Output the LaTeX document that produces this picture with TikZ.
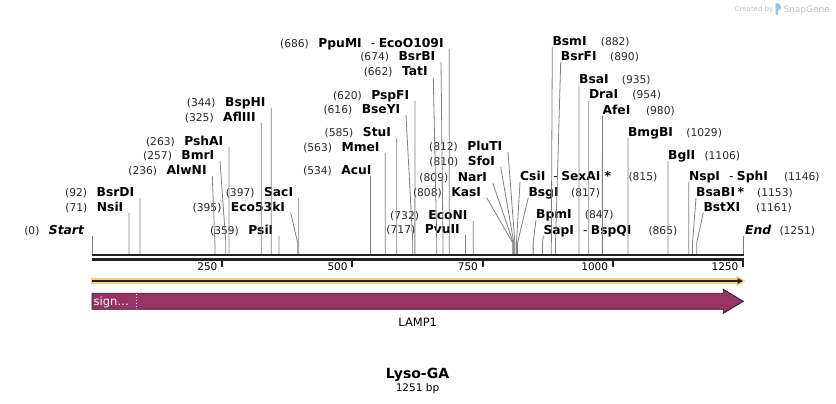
\documentclass[tikz,border=0pt]{standalone}
\usepackage{fontspec}
\setmainfont{DejaVu Sans}
\usepackage{tikz}
\usetikzlibrary{arrows.meta}

\definecolor{leadgray}{RGB}{128,128,128}
\definecolor{numgray}{RGB}{40,40,40}
\definecolor{rulerblack}{RGB}{34,34,34}
\definecolor{trackyellow}{RGB}{250,204,120}
\definecolor{lampfill}{RGB}{153,51,102}
\definecolor{lampedge}{RGB}{55,22,40}
\definecolor{markgray}{RGB}{190,190,190}
\definecolor{markblue}{RGB}{140,200,240}

\newcommand{\site}[1]{{\fontsize{10.7}{12}\selectfont\mdseries\color{numgray}(#1)}}

\begin{document}
\begin{tikzpicture}[
    x=1pt, y=-1pt,
    enzl/.style={anchor=south east, inner xsep=5.5pt, inner ysep=0pt, text depth=1.5pt, font=\fontsize{12.3}{14}\selectfont\bfseries},
    enzr/.style={enzl, anchor=south west, inner xsep=0pt},
    leader/.style={draw=leadgray, line width=0.8pt},
    ruler/.style={draw=rulerblack, line width=2.3pt},
    tick/.style={draw=rulerblack, line width=2pt},
    ticklab/.style={anchor=base east, inner sep=0pt, font=\fontsize{10.5}{12}\selectfont}
]
\useasboundingbox (0,0) rectangle (836,404);

% cut sites on the backbone
\coordinate (s0) at (92,254);
\coordinate (s71) at (92+71*0.5208,254);
\coordinate (s92) at (92+92*0.5208,254);
\coordinate (s236) at (92+236*0.5208,254);
\coordinate (s257) at (92+257*0.5208,254);
\coordinate (s263) at (92+263*0.5208,254);
\coordinate (s325) at (92+325*0.5208,254);
\coordinate (s344) at (92+344*0.5208,254);
\coordinate (s359) at (92+359*0.5208,254);
\coordinate (s395) at (92+395*0.5208,254);
\coordinate (s397) at (92+397*0.5208,254);
\coordinate (s534) at (92+534*0.5208,254);
\coordinate (s563) at (92+563*0.5208,254);
\coordinate (s585) at (92+585*0.5208,254);
\coordinate (s616) at (92+616*0.5208,254);
\coordinate (s620) at (92+620*0.5208,254);
\coordinate (s662) at (92+662*0.5208,254);
\coordinate (s674) at (92+674*0.5208,254);
\coordinate (s686) at (92+686*0.5208,254);
\coordinate (s717) at (92+717*0.5208,254);
\coordinate (s732) at (92+732*0.5208,254);
\coordinate (s808) at (92+808*0.5208,254);
\coordinate (s809) at (92+809*0.5208,254);
\coordinate (s810) at (92+810*0.5208,254);
\coordinate (s812) at (92+812*0.5208,254);
\coordinate (s815) at (92+815*0.5208,254);
\coordinate (s817) at (92+817*0.5208,254);
\coordinate (s847) at (92+847*0.5208,254);
\coordinate (s865) at (92+865*0.5208,254);
\coordinate (s882) at (92+882*0.5208,254);
\coordinate (s890) at (92+890*0.5208,254);
\coordinate (s935) at (92+935*0.5208,254);
\coordinate (s954) at (92+954*0.5208,254);
\coordinate (s980) at (92+980*0.5208,254);
\coordinate (s1029) at (92+1029*0.5208,254);
\coordinate (s1106) at (92+1106*0.5208,254);
\coordinate (s1146) at (92+1146*0.5208,254);
\coordinate (s1153) at (92+1153*0.5208,254);
\coordinate (s1161) at (92+1161*0.5208,254);
\coordinate (s1251) at (743.5,254);

% enzymes left of their line
\node[enzl, inner xsep=7.5pt] (Start) at (92,236) {\site{0}\hspace{9.5pt}\textit{Start}};
\node[enzl] (NsiI) at (129,213) {\site{71}\hspace{9.5pt}NsiI};
\node[enzl] (BsrDI) at (139.9,198) {\site{92}\hspace{9.5pt}BsrDI};
\node[enzl] (AlwNI) at (212.3,176) {\site{236}\hspace{9.5pt}AlwNI};
\node[enzl] (BmrI) at (220,161) {\site{257}\hspace{9.5pt}BmrI};
\node[enzl] (PshAI) at (229,146.7) {\site{263}\hspace{9.5pt}PshAI};
\node[enzl] (AflIII) at (261.3,123) {\site{325}\hspace{9.5pt}AflIII};
\node[enzl] (BspHI) at (271.2,108) {\site{344}\hspace{9.5pt}BspHI};
\node[enzl] (PsiI) at (279,236) {\site{359}\hspace{9.5pt}PsiI};
\node[enzl] (Eco53kI) at (290.7,213) {\site{395}\hspace{9.5pt}Eco53kI};
\node[enzl] (SacI) at (298.8,198) {\site{397}\hspace{9.5pt}SacI};
\node[enzl] (AcuI) at (377.2,175.7) {\site{534}\hspace{9.5pt}AcuI};
\node[enzl] (MmeI) at (385.2,153) {\site{563}\hspace{9.5pt}MmeI};
\node[enzl] (StuI) at (396.7,138) {\site{585}\hspace{9.5pt}StuI};
\node[enzl] (BseYI) at (406,115) {\site{616}\hspace{9.5pt}BseYI};
\node[enzl] (PspFI) at (414.9,101) {\site{620}\hspace{9.5pt}PspFI};
\node[enzl] (TatI) at (433.3,77.7) {\site{662}\hspace{9.5pt}TatI};
\node[enzl] (BsrBI) at (441,62) {\site{674}\hspace{9.5pt}BsrBI};
\node[enzl] (PpuMI) at (449.3,49) {\site{686}\hspace{9.5pt}PpuMI\hspace{9pt}{\mdseries -}\hspace{3.5pt}EcoO109I};
\node[enzl] (PvuII) at (465.4,235) {\site{717}\hspace{9.5pt}PvuII};
\node[enzl] (EcoNI) at (473.2,221) {\site{732}\hspace{9.5pt}EcoNI};
\node[enzl] (KasI) at (486.7,197.7) {\site{808}\hspace{9.5pt}KasI};
\node[enzl] (NarI) at (492.7,182.7) {\site{809}\hspace{9.5pt}NarI};
\node[enzl] (SfoI) at (500.7,167) {\site{810}\hspace{9.5pt}SfoI};
\node[enzl] (PluTI) at (508,152) {\site{812}\hspace{9.5pt}PluTI};

% enzymes right of their line
\node[enzr] (CsiI) at (520,181.7) {\makebox[108.3pt][l]{CsiI\hspace{8pt}{\mdseries -}\hspace{3.5pt}SexAI\hspace{4pt}*}\site{815}};
\node[enzr] (BsgI) at (528.3,197.7) {\makebox[42.7pt][l]{BsgI}\site{817}};
\node[enzr] (BpmI) at (536,220) {\makebox[48.7pt][l]{BpmI}\site{847}};
\node[enzr] (SapI) at (543.3,235.7) {\makebox[105pt][l]{SapI\hspace{9pt}{\mdseries -}\hspace{3.5pt}BspQI}\site{865}};
\node[enzr] (BsmI) at (552.3,47) {\makebox[48.4pt][l]{BsmI}\site{882}};
\node[enzr] (BsrFI) at (560.7,62) {\makebox[49.3pt][l]{BsrFI}\site{890}};
\node[enzr] (BsaI) at (579,85.7) {\makebox[42.7pt][l]{BsaI}\site{935}};
\node[enzr] (DraI) at (588.8,100.7) {\makebox[43.4pt][l]{DraI}\site{954}};
\node[enzr] (AfeI) at (602.4,115.7) {\makebox[43.4pt][l]{AfeI}\site{980}};
\node[enzr] (BmgBI) at (627.9,138) {\makebox[58.3pt][l]{BmgBI}\site{1029}};
\node[enzr] (BglI) at (668,161) {\makebox[36.3pt][l]{BglI}\site{1106}};
\node[enzr] (NspI) at (688.8,181.7) {\makebox[95pt][l]{NspI\hspace{9pt}{\mdseries -}\hspace{3.5pt}SphI}\site{1146}};
\node[enzr] (BsaBI) at (696,197.7) {\makebox[61pt][l]{BsaBI\hspace{2.5pt}*}\site{1153}};
\node[enzr] (BstXI) at (703.3,212.7) {\makebox[52.7pt][l]{BstXI}\site{1161}};
\node[enzr, inner xsep=1.5pt] (End) at (743.5,235.7) {\makebox[34.3pt][l]{\textit{End}}\site{1251}};

% leader lines
\draw[leader] (Start.south east) -- (s0);
\draw[leader] (NsiI.south east) -- ([yshift=11pt]s71) -- (s71);
\draw[leader] (BsrDI.south east) -- ([yshift=11pt]s92) -- (s92);
\draw[leader] (AlwNI.south east) -- ([yshift=11pt]s236) -- (s236);
\draw[leader] (BmrI.south east) -- ([yshift=11pt]s257) -- (s257);
\draw[leader] (PshAI.south east) -- ([yshift=11pt]s263) -- (s263);
\draw[leader] (AflIII.south east) -- ([yshift=11pt]s325) -- (s325);
\draw[leader] (BspHI.south east) -- ([yshift=11pt]s344) -- (s344);
\draw[leader] (PsiI.south east) -- ([yshift=11pt]s359) -- (s359);
\draw[leader] (Eco53kI.south east) -- ([yshift=11pt]s395) -- (s395);
\draw[leader] (SacI.south east) -- ([yshift=11pt]s397) -- (s397);
\draw[leader] (s534 |- AcuI.south) -- (s534);
\draw[leader] (MmeI.south east) -- ([yshift=11pt]s563) -- (s563);
\draw[leader] (StuI.south east) -- ([yshift=11pt]s585) -- (s585);
\draw[leader] (BseYI.south east) -- ([yshift=11pt]s616) -- (s616);
\draw[leader] (PspFI.south east) -- ([yshift=11pt]s620) -- (s620);
\draw[leader] (TatI.south east) -- ([yshift=11pt]s662) -- (s662);
\draw[leader] (BsrBI.south east) -- ([yshift=11pt]s674) -- (s674);
\draw[leader] (PpuMI.south east) -- ([yshift=11pt]s686) -- (s686);
\draw[leader] (PvuII.south east) -- ([yshift=11pt]s717) -- (s717);
\draw[leader] (EcoNI.south east) -- ([yshift=11pt]s732) -- (s732);
\draw[leader] (KasI.south east) -- ([yshift=11pt]s808) -- (s808);
\draw[leader] (NarI.south east) -- ([yshift=11pt]s809) -- (s809);
\draw[leader] (SfoI.south east) -- ([yshift=11pt]s810) -- (s810);
\draw[leader] (PluTI.south east) -- ([yshift=11pt]s812) -- (s812);
\draw[leader] (CsiI.south west) -- ([yshift=11pt]s815) -- (s815);
\draw[leader] (BsgI.south west) -- ([yshift=11pt]s817) -- (s817);
\draw[leader] (BpmI.south west) -- ([yshift=11pt]s847) -- (s847);
\draw[leader] (SapI.south west) -- ([yshift=11pt]s865) -- (s865);
\draw[leader] (BsmI.south west) -- ([yshift=11pt]s882) -- (s882);
\draw[leader] (BsrFI.south west) -- ([yshift=11pt]s890) -- (s890);
\draw[leader] (BsaI.south west) -- ([yshift=11pt]s935) -- (s935);
\draw[leader] (DraI.south west) -- ([yshift=11pt]s954) -- (s954);
\draw[leader] (AfeI.south west) -- ([yshift=11pt]s980) -- (s980);
\draw[leader] (BmgBI.south west) -- ([yshift=11pt]s1029) -- (s1029);
\draw[leader] (BglI.south west) -- ([yshift=11pt]s1106) -- (s1106);
\draw[leader] (NspI.south west) -- ([yshift=11pt]s1146) -- (s1146);
\draw[leader] (BsaBI.south west) -- ([yshift=11pt]s1153) -- (s1153);
\draw[leader] (BstXI.south west) -- ([yshift=11pt]s1161) -- (s1161);
\draw[leader] (End.south west) -- (s1251);

% backbone and ruler
\draw[ruler] (92,255.2) -- (743.5,255.2);
\draw[ruler] (92,259.5) -- (743.5,259.5);
\coordinate (t250) at (92+250*0.5208,258.5);
\coordinate (t500) at (92+500*0.5208,258.5);
\coordinate (t750) at (92+750*0.5208,258.5);
\coordinate (t1000) at (92+1000*0.5208,258.5);
\coordinate (t1250) at (92+1250*0.5208,258.5);
\draw[tick] (t250) -- ++(0,8.5);
\draw[tick] (t500) -- ++(0,8.5);
\draw[tick] (t750) -- ++(0,8.5);
\draw[tick] (t1000) -- ++(0,8.5);
\draw[tick] (t1250) -- ++(0,8.5);
\node[ticklab] (n250) at (217.6,270.7) {250};
\node[ticklab] (n500) at (347.8,270.7) {500};
\node[ticklab] (n750) at (478.1,270.7) {750};
\node[ticklab] (n1000) at (608.3,270.7) {1000};
\node[ticklab] (n1250) at (738.5,270.7) {1250};

% open reading frame track
\draw[trackyellow, line width=5.4pt, -{Triangle[length=9pt,width=10.5pt]}] (91,281) -- (745.5,281);
\draw[rulerblack, line width=1.8pt, -{Triangle[length=5.5pt,width=5.5pt]}] (92,281) -- (743,281);

% LAMP1 feature
\filldraw[fill=lampfill, draw=lampedge, line width=0.8pt]
    (92,293.3) -- (723.3,293.3) -- (723.3,289.3) -- (743.3,301.3)
    -- (723.3,313.3) -- (723.3,309.3) -- (92,309.3) -- cycle;
\draw[white, dotted, line width=0.8pt] (136,294.3) -- (136,308.3);
\node[anchor=base west, inner sep=0pt, text=white, font=\fontsize{11.5}{13}\selectfont] (sig) at (93.5,305.5) {sign…};
\node[anchor=base, inner sep=0pt, font=\fontsize{11.5}{13}\selectfont] (lamp) at (417.7,326.5) {LAMP1};

% title
\node[anchor=base, inner sep=0pt, font=\fontsize{14}{16}\selectfont\bfseries] (title) at (417.5,378) {Lyso-GA};
\node[anchor=base, inner sep=0pt, font=\fontsize{10.5}{12}\selectfont] (size) at (417.5,391.5) {1251 bp};

% watermark
\node[anchor=base east, inner sep=0pt, text=markgray, font=\fontsize{7}{8}\selectfont] (made) at (773.5,12) {Created by};
\fill[markblue] (775.5,3.5) -- (778,3.5) to[out=0,in=90] (781,7) to[out=-90,in=0] (778,10.5) -- (778,15) -- (775.5,15) -- cycle;
\node[anchor=base west, inner sep=0pt, text=markgray, font=\fontsize{9}{10}\selectfont] (snap) at (783.3,12.5) {SnapGene};
\end{tikzpicture}
\end{document}
